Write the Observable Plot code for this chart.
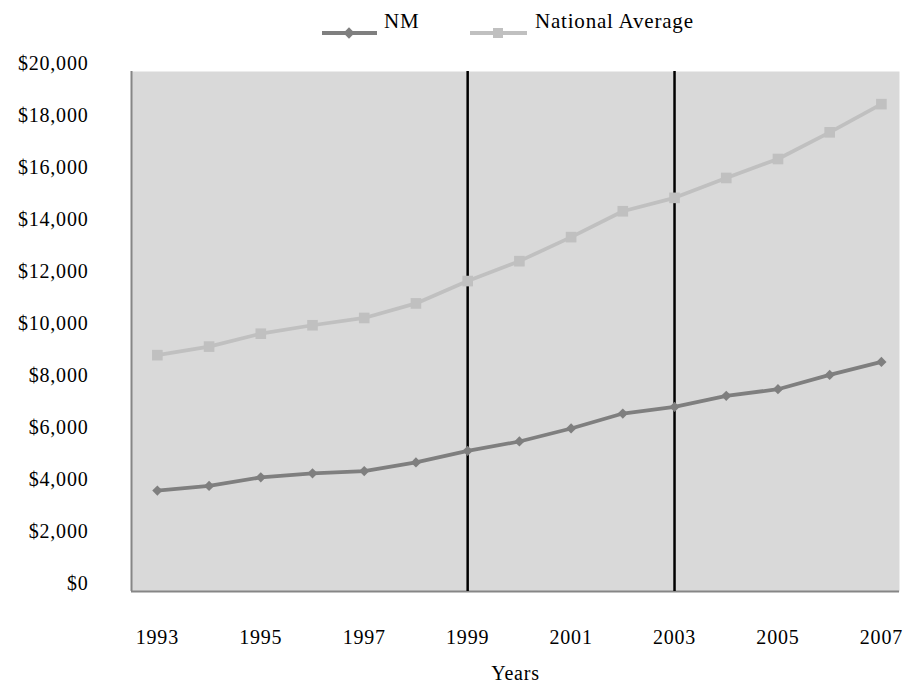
<!DOCTYPE html>
<html>
<head>
<meta charset="utf-8">
<script src="https://cdn.jsdelivr.net/npm/d3@7"></script>
<script src="https://cdn.jsdelivr.net/npm/@observablehq/plot@0.6"></script>
<style>
  body { margin: 0; background: #fff; font-family: "Liberation Serif", serif; }
  #legend { position: relative; width: 905px; height: 45px; font-size: 21px; color: #000; letter-spacing: 0.8px; }
  .sw { position: absolute; height: 4px; top: 31px; }
  .mk { position: absolute; }
  .lt { position: absolute; top: 9px; line-height: 24px; white-space: nowrap; }
  #chart svg text { letter-spacing: 0.8px; }
</style>
</head>
<body>
<div id="legend">
  <div class="sw" style="left:322px;width:55px;background:#7f7f7f"></div>
  <div class="mk" style="left:345px;top:29px;width:8px;height:8px;background:#7f7f7f;transform:rotate(45deg)"></div>
  <div class="lt" style="left:384px">NM</div>
  <div class="sw" style="left:470px;width:57px;background:#c0c0c0"></div>
  <div class="mk" style="left:493px;top:28px;width:10px;height:10px;background:#c0c0c0"></div>
  <div class="lt" style="left:535px">National Average</div>
</div>
<div id="chart"></div>
<script>
const years = [1993, 1994, 1995, 1996, 1997, 1998, 1999, 2000, 2001, 2002, 2003, 2004, 2005, 2006, 2007];
const nmValues = [3880, 4060, 4390, 4545, 4630, 4965, 5410, 5770, 6270, 6845, 7100, 7525, 7780, 8330, 8830];
const nationalValues = [9090, 9420, 9915, 10240, 10520, 11080, 11940, 12705, 13630, 14625, 15140, 15905, 16635, 17660, 18745];
const markerYears = [1999, 2003];
const xTickYears = [1993, 1995, 1997, 1999, 2001, 2003, 2005, 2007];
const yTicks = [0, 2000, 4000, 6000, 8000, 10000, 12000, 14000, 16000, 18000, 20000];
const xDomain = [1992.5, 2007.35];
const yDomain = [0, 20000];

const nm = years.map((year, i) => ({year, value: nmValues[i]}));
const nat = years.map((year, i) => ({year, value: nationalValues[i]}));

const FONT = "Liberation Serif, serif";

const chart = Plot.plot({
  width: 905,
  height: 639,
  marginTop: 26,
  marginBottom: 93,
  marginLeft: 131,
  marginRight: 6,
  style: {fontFamily: FONT, fontSize: "20px", color: "#000", background: "#fff"},
  x: {type: "linear", domain: xDomain},
  y: {domain: yDomain},
  marks: [
    Plot.frame({fill: "#d9d9d9", stroke: "none"}),
    Plot.ruleX([xDomain[0]], {stroke: "#868686", strokeWidth: 2}),
    Plot.ruleY([0], {stroke: "#868686", strokeWidth: 2}),
    Plot.ruleX(markerYears, {stroke: "#000", strokeWidth: 2.5}),
    Plot.line(nat, {x: "year", y: "value", stroke: "#c0c0c0", strokeWidth: 3.75}),
    Plot.dot(nat, {x: "year", y: "value", symbol: "square", r: 6, fill: "#c0c0c0", stroke: "none"}),
    Plot.line(nm, {x: "year", y: "value", stroke: "#7f7f7f", strokeWidth: 3.75}),
    Plot.dot(nm, {x: "year", y: "value", symbol: "diamond2", r: 4.6, fill: "#7f7f7f", stroke: "none"}),
    Plot.axisY({ticks: yTicks, tickFormat: d3.format("$,"), tickSize: 0, tickPadding: 43, dy: -8, fontSize: 20, label: null}),
    Plot.axisX({ticks: xTickYears, tickFormat: d => String(d), tickSize: 0, tickPadding: 38, fontSize: 20,
      label: "Years", labelAnchor: "center", labelOffset: 88, labelArrow: "none"})
  ]
});
document.getElementById("chart").appendChild(chart);
</script>
</body>
</html>
